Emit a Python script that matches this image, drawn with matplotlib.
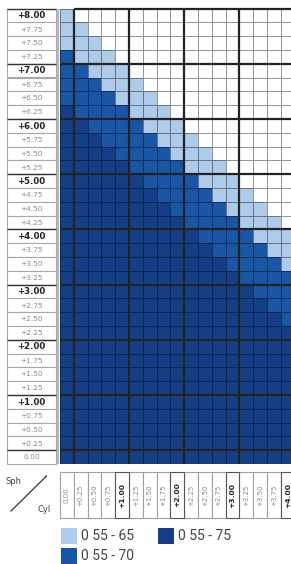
import numpy as np
import matplotlib.pyplot as plt
from matplotlib.colors import ListedColormap
from matplotlib.patches import Rectangle

# row labels (Sph) top to bottom, column labels (Cyl) left to right
sph_labels = ['+8.00', '+7.75', '+7.50', '+7.25', '+7.00', '+6.75', '+6.50', '+6.25',
              '+6.00', '+5.75', '+5.50', '+5.25', '+5.00', '+4.75', '+4.50', '+4.25',
              '+4.00', '+3.75', '+3.50', '+3.25', '+3.00', '+2.75', '+2.50', '+2.25',
              '+2.00', '+1.75', '+1.50', '+1.25', '+1.00', '+0.75', '+0.50', '+0.25',
              '0.00']
cyl_labels = ['0.00', '+0.25', '+0.50', '+0.75', '+1.00', '+1.25', '+1.50', '+1.75',
              '+2.00', '+2.25', '+2.50', '+2.75', '+3.00', '+3.25', '+3.50', '+3.75',
              '+4.00']

# availability per cell: . none, L 55-65, M 55-70, D 55-75
avail = [
    "L................",
    "LL...............",
    "LLL..............",
    "MLLL.............",
    "MMLLL............",
    "MMMLLL...........",
    "MMMMLLL..........",
    "DMMMMLLL.........",
    "DDMMMMLLL........",
    "DDDMMMMLLL.......",
    "DDDDMMMMLLL......",
    "DDDDDMMMMLLL.....",
    "DDDDDDMMMMLLL....",
    "DDDDDDDMMMMLLL...",
    "DDDDDDDDMMMMLLL..",
    "DDDDDDDDDMMMMLLL.",
    "DDDDDDDDDDMMMMLLL",
    "DDDDDDDDDDDMMMMLL",
    "DDDDDDDDDDDDMMMML",
    "DDDDDDDDDDDDDMMMM",
    "DDDDDDDDDDDDDDMMM",
    "DDDDDDDDDDDDDDDMM",
    "DDDDDDDDDDDDDDDDM",
    "DDDDDDDDDDDDDDDDD",
    "DDDDDDDDDDDDDDDDD",
    "DDDDDDDDDDDDDDDDD",
    "DDDDDDDDDDDDDDDDD",
    "DDDDDDDDDDDDDDDDD",
    "DDDDDDDDDDDDDDDDD",
    "DDDDDDDDDDDDDDDDD",
    "DDDDDDDDDDDDDDDDD",
    "DDDDDDDDDDDDDDDDD",
    "DDDDDDDDDDDDDDDDD",
]

legend_labels = ['0 55 - 65', '0 55 - 70', '0 55 - 75']
light, mid, dark = '#aecbea', '#1a56a6', '#143f86'
legend_colors = [light, mid, dark]

code_of = {'.': 0, 'L': 1, 'M': 2, 'D': 3}
codes = np.array([[code_of[ch] for ch in row] for row in avail])

W, H = 291, 564
GX0, GY0 = 60.0, 8.5
CW, RH = 13.8, 13.8
nrow, ncol = codes.shape
GY1 = GY0 + nrow * RH

narrow = ['Liberation Sans Narrow', 'DejaVu Sans']
plt.rcParams['font.family'] = ['Roboto', 'DejaVu Sans']

fig = plt.figure(figsize=(W / 100, H / 100), dpi=100)
deco = fig.add_axes([0, 0, 1, 1])
deco.set_xlim(0, W)
deco.set_ylim(H, 0)
deco.axis('off')

# Sph label column
for r, lab in enumerate(sph_labels):
    y = GY0 + r * RH
    deco.add_patch(Rectangle((7, y), 49, RH, fc='white', ec='#a8a8a8', lw=0.8))
    bold = lab.endswith('.00') and lab != '0.00'
    deco.text(31.5, y + RH / 2 + 0.3, lab, ha='center', va='center',
              fontsize=6.2 if bold else 5.3, family=narrow,
              fontweight='bold' if bold else 'normal',
              color='#222222' if bold else '#8a8a8a')
for r in range(0, nrow + 1, 4):
    deco.hlines(GY0 + r * RH, 7, 56, color='#333333', lw=1.0)
deco.vlines(58.2, GY0, GY1, color='#b8b8b8', lw=1.6)

# Cyl label row
for c, lab in enumerate(cyl_labels):
    x = GX0 + c * CW
    bold = lab.endswith('.00') and lab != '0.00'
    deco.add_patch(Rectangle((x, 472), CW, 46, fc='white',
                             ec='#555555' if bold else '#a0a0a0',
                             lw=0.8, zorder=3 if bold else 2))
    deco.text(x + CW / 2, 495, lab, rotation=90, ha='center', va='center',
              fontsize=5.4 if bold else 5.0, family=narrow,
              fontweight='bold' if bold else 'normal',
              color='#222222' if bold else '#8a8a8a', zorder=4)

# corner
deco.plot([11, 46.5], [511, 476], color='#333333', lw=0.9)
deco.text(6, 481, 'Sph', fontsize=6, color='#444444', va='center', family=narrow)
deco.text(38, 509, 'Cyl', fontsize=6, color='#444444', va='center', family=narrow)

# legend
leg_pos = [(61, 528), (61, 548), (158, 528)]
for (lx, ly), lab, col in zip(leg_pos, legend_labels, legend_colors):
    deco.add_patch(Rectangle((lx, ly), 16, 15.5, fc=col, ec='none'))
    deco.text(lx + 20, ly + 8.3, lab, fontsize=10, color='#444444', va='center')

# grid of cells
gax = fig.add_axes([GX0 / W, 1 - GY1 / H, (W - GX0) / W, (GY1 - GY0) / H])
cmap = ListedColormap(['white', light, mid, dark])
gax.pcolormesh(np.arange(ncol + 1), np.arange(nrow + 1), codes, cmap=cmap,
               vmin=-0.5, vmax=3.5, edgecolors=(0, 0, 0, 0.42), linewidth=0.7)
gax.set_xlim(0, (W - GX0) / CW)
gax.set_ylim(nrow, 0)
gax.axis('off')
for r in range(0, nrow + 1, 4):
    gax.hlines(r, 0 if r else 1, ncol, color='#222222', lw=1.6, clip_on=False)
for c in [1, 5, 9, 13]:
    gax.vlines(c, 0, nrow, color='#222222', lw=1.6, clip_on=False)

fig.savefig('out.png', dpi=100)
